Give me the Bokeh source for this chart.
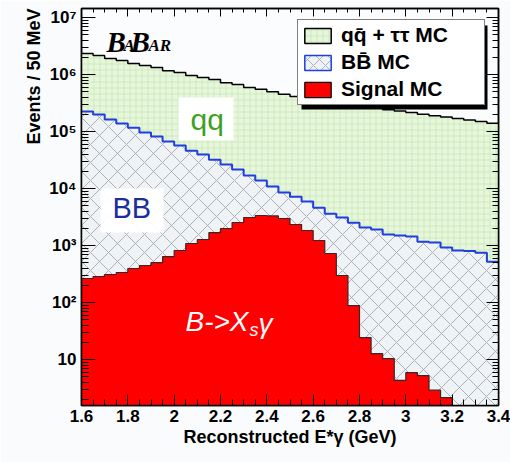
import json
import numpy as np
from bokeh.plotting import figure
from bokeh.models import (FixedTicker, CustomJSTickFormatter, LinearAxis, LogAxis, Label,
                          BoxAnnotation, Legend, LegendItem, Title, Range1d)
from bokeh.embed import file_html
from bokeh.resources import INLINE

# ---------------- data (50 MeV bins from 1.6 to 3.4 GeV) ----------------
bin_edges = np.round(np.linspace(1.6, 3.4, 37), 3)

# top of the full stack (q qbar + tau tau on top of BB and signal)
qq_tau_stack = [2.34e6, 2.15e6, 1.91e6, 1.76e6, 1.56e6, 1.44e6, 1.33e6, 1.17e6, 1.08e6,
                9.6e5, 8.9e5, 8.2e5, 7.2e5, 6.7e5, 5.9e5, 5.5e5, 5.0e5, 4.5e5, 4.1e5,
                3.7e5, 3.5e5, 3.3e5, 3.1e5, 2.9e5, 2.75e5, 2.6e5, 2.4e5, 2.3e5, 2.15e5,
                2.0e5, 1.9e5, 1.8e5, 1.7e5, 1.6e5, 1.5e5, 1.4e5]
# top of BB + signal
bb_stack = [2.24e5, 1.99e5, 1.62e5, 1.38e5, 1.17e5, 9.6e4, 8.2e4, 6.7e4, 5.7e4, 4.6e4,
            3.95e4, 3.2e4, 2.64e4, 2.15e4, 1.69e4, 1.38e4, 1.08e4, 8.5e3, 7.2e3, 5.9e3,
            4.6e3, 3.6e3, 3.1e3, 2.5e3, 2.07e3, 1.91e3, 1.56e3, 1.5e3, 1.44e3, 1.17e3,
            1.13e3, 920, 820, 800, 750, 520]
# signal MC
signal = [264, 286, 310, 336, 395, 446, 503, 640, 817, 1084, 1274, 1690, 1987, 2535,
          3100, 3360, 3300, 2980, 2335, 1833, 1224, 724, 298, 88.5, 24.3, 12.7, 10.4,
          4.3, 5.9, 5.2, 2.9, 2.15, 0, 0, 0, 0]

x_ticks = [1.6, 1.8, 2.0, 2.2, 2.4, 2.6, 2.8, 3.0, 3.2, 3.4]
y_ticks = [10, 100, 1e3, 1e4, 1e5, 1e6, 1e7]
y_tick_labels = ["10", "10\u00b2", "10\u00b3", "10\u2074", "10\u2075", "10\u2076", "10\u2077"]
legend_labels = ["qq\u0304 + \u03c4\u03c4 MC", "BB\u0304 MC", "Signal MC"]

# ---------------- styling ----------------
Y_MIN, Y_MAX = 1.56, 1.44e7
FLOOR = 1.0
FONT = "Liberation Sans"
QQ_FILL, QQ_HATCH = "#e8f6de", "#c3e8ad"
BB_FILL, BB_HATCH = "#f0f3f6", "#98a1ab"
RED = "#ff0000"
BLUE = "#1f3fe0"


def px2x(px):
    return 1.6 + (px - 81) * 1.8 / 417


def py2y(py):
    return 10 ** ((416 - py) / 57)


tot = np.array(qq_tau_stack, dtype=float)
bbt = np.array(bb_stack, dtype=float)
sig = np.array(signal, dtype=float)
sig_f = np.where(sig > 0, sig, FLOOR)


def ext(a):
    return np.append(a, a[-1])


p = figure(frame_width=417, frame_height=397,
           x_range=Range1d(1.6, 3.4), y_range=Range1d(Y_MIN, Y_MAX),
           y_axis_type="log", output_backend="svg", toolbar_location=None,
           min_border_left=81, min_border_right=12, min_border_top=8, min_border_bottom=57,
           background_fill_color="#fbfcfd", border_fill_color="#f9fbfc")
p.grid.visible = False
p.outline_line_color = "black"
p.outline_line_width = 1.5

# stacked regions
p.varea_step(x=bin_edges, y1=ext(bbt), y2=ext(tot), step_mode="after",
             fill_color=QQ_FILL, hatch_pattern="cross", hatch_color=QQ_HATCH,
             hatch_scale=6, hatch_weight=0.7)
p.varea_step(x=bin_edges, y1=ext(sig_f), y2=ext(bbt), step_mode="after",
             fill_color=BB_FILL, hatch_pattern="diagonal_cross", hatch_color=BB_HATCH,
             hatch_scale=18, hatch_weight=0.8)
p.varea_step(x=bin_edges, y1=np.full(37, FLOOR), y2=ext(sig_f), step_mode="after",
             fill_color=RED)
p.step(x=bin_edges, y=ext(sig_f), mode="after", line_color="#3a2626", line_width=1.2)
p.step(x=bin_edges, y=ext(bbt), mode="after", line_color=BLUE, line_width=2)
p.step(x=bin_edges, y=ext(tot), mode="after", line_color="black", line_width=1.5)

# axes
x_minor = list(np.round(np.arange(1.6, 3.4001, 0.05), 3))
y_minor = [m * 10 ** e for e in range(0, 8) for m in range(2, 10)]
xt = FixedTicker(ticks=x_ticks, minor_ticks=x_minor)
yt = FixedTicker(ticks=y_ticks, minor_ticks=y_minor)
yfmt = CustomJSTickFormatter(code="const L = %s; const e = Math.round(Math.log10(tick)); return L[e-1] || '';"
                             % json.dumps(y_tick_labels))
xfmt = CustomJSTickFormatter(code="return String(Math.round(tick*10)/10);")
blank = CustomJSTickFormatter(code="return '';")

xa = p.xaxis[0]
xa.ticker = xt
xa.formatter = xfmt
ya = p.yaxis[0]
ya.ticker = yt
ya.formatter = yfmt

for ax, mj, mn in ((xa, 11, 6), (ya, 14, 7)):
    ax.major_tick_in = mj
    ax.major_tick_out = 0
    ax.minor_tick_in = mn
    ax.minor_tick_out = 0
    ax.axis_line_color = "black"
    ax.axis_line_width = 1.5
    ax.major_tick_line_color = "black"
    ax.minor_tick_line_color = "black"
    ax.major_label_text_font = FONT
    ax.major_label_text_font_style = "bold"
    ax.major_label_text_font_size = "17px"
    ax.major_label_text_color = "black"

xa.major_label_standoff = 4
ya.major_label_standoff = 5
xa.axis_label = "Reconstructed E*\u03b3 (GeV)"
xa.axis_label_text_font = FONT
xa.axis_label_text_font_style = "bold"
xa.axis_label_text_font_size = "18px"
xa.axis_label_standoff = 2
xa.axis_label_text_color = "black"

top_ax = LinearAxis(ticker=xt, formatter=blank, major_tick_in=8, major_tick_out=0,
                    minor_tick_in=4, minor_tick_out=0, major_label_standoff=0,
                    axis_line_color="black", axis_line_width=1.5)
p.add_layout(top_ax, "above")
right_ax = LogAxis(ticker=yt, formatter=blank, major_tick_in=12, major_tick_out=0,
                   minor_tick_in=6, minor_tick_out=0, major_label_standoff=0,
                   axis_line_color="black", axis_line_width=1.5)
p.add_layout(right_ax, "right")

p.add_layout(Title(text="Events / 50 MeV", align="right", text_font=FONT,
                   text_font_style="bold", text_font_size="18px", text_color="black",
                   standoff=6), "left")

# text boxes
p.add_layout(BoxAnnotation(left=px2x(178), right=px2x(233), top=py2y(97), bottom=py2y(140),
                           fill_color="white", fill_alpha=0.95, line_color=None))
p.add_layout(BoxAnnotation(left=px2x(100), right=px2x(163), top=py2y(188), bottom=py2y(232),
                           fill_color="white", fill_alpha=0.95, line_color=None))
p.add_layout(Label(x=px2x(190), y=py2y(119), text="qq", text_font=FONT, text_font_size="30px",
                   text_color="#3f9f27", text_baseline="middle"))
p.add_layout(Label(x=px2x(112), y=py2y(207), text="BB", text_font=FONT, text_font_size="29px",
                   text_color="#1b2f9a", text_baseline="middle"))
p.add_layout(Label(x=px2x(185), y=py2y(321), text="B->X", text_font=FONT, text_font_size="28px",
                   text_font_style="italic", text_color="white", text_baseline="middle"))
p.add_layout(Label(x=px2x(249), y=py2y(329), text="s", text_font=FONT, text_font_size="18px",
                   text_font_style="italic", text_color="white", text_baseline="middle"))
p.add_layout(Label(x=px2x(258), y=py2y(323), text="\u03b3", text_font=FONT, text_font_size="28px",
                   text_font_style="italic", text_color="white", text_baseline="middle"))

# BaBar logo
for txt, px, py, size in (("B", 106, 41, 29), ("A", 123, 45, 17), ("B", 130, 41, 29), ("AR", 148, 45, 17)):
    p.add_layout(Label(x=px2x(px), y=py2y(py), text=txt, text_font="Liberation Serif",
                       text_font_style="bold italic", text_font_size="%dpx" % size,
                       text_color="black", text_baseline="middle"))

# legend swatch renderers (one dummy row placed outside the visible x range)
off = dict(left=[9.0], right=[9.5], top=[2.0], bottom=[1.5])
r_qq = p.quad(**off, fill_color=QQ_FILL, hatch_pattern="cross",
              hatch_color=QQ_HATCH, hatch_scale=6, hatch_weight=0.7, line_color="black", line_width=1.5)
r_bb = p.quad(**off, fill_color=BB_FILL,
              hatch_pattern="diagonal_cross", hatch_color=BB_HATCH, hatch_scale=12,
              hatch_weight=0.8, line_color=BLUE, line_width=1.5)
r_sig = p.quad(**off, fill_color=RED, line_color="black", line_width=1.2)

# legend shadow
p.add_layout(BoxAnnotation(left=px2x(301), right=px2x(487), top=py2y(25), bottom=py2y(109),
                           fill_color="black", fill_alpha=1, line_color=None))

legend = Legend(items=[LegendItem(label=t, renderers=[r]) for t, r in zip(legend_labels, [r_qq, r_bb, r_sig])],
                location=(216, 300), background_fill_color="white", background_fill_alpha=1,
                label_text_color="black", orientation="vertical", glyph_width=33,
                glyph_height=19, label_height=21, label_width=140, label_standoff=7,
                padding=3, spacing=3, margin=0, label_text_font=FONT,
                label_text_font_style="bold", label_text_font_size="21px",
                border_line_color="black", border_line_width=1.5)
p.add_layout(legend)

open("out.html", "w").write(file_html(p, INLINE))
